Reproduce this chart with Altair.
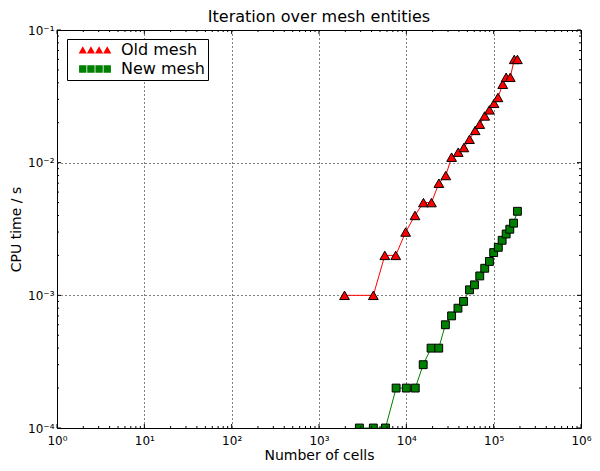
import json
import altair as alt
import pandas as pd

# ---------------- data ----------------
old_cells = [1960, 4190, 5670, 7560, 9820, 12560, 15700, 19400, 23600, 28300,
             33000, 39300, 45600, 52900, 61400, 69300, 79000, 89400, 101000,
             112000, 127000, 139000, 155000, 172000, 187000]
old_time = [0.001, 0.001, 0.002, 0.002, 0.003, 0.004, 0.005, 0.005, 0.007, 0.008,
            0.011, 0.012, 0.013, 0.015, 0.0175, 0.0195, 0.0225, 0.025, 0.028,
            0.031, 0.039, 0.044, 0.044, 0.060, 0.060]

new_cells = [2900, 4190, 5770, 7640, 10000, 12650, 15600, 19200, 23500, 28000,
             33000, 39000, 45200, 52900, 60300, 69300, 79000, 89400, 100000,
             113000, 125000, 139000, 153000, 169000, 187000]
new_time = [0.0001, 0.0001, 0.0001, 0.0002, 0.0002, 0.0002, 0.0003, 0.0004, 0.0004,
            0.0006, 0.0007, 0.0008, 0.0009, 0.0011, 0.0012, 0.0014, 0.0016, 0.0018,
            0.0021, 0.0023, 0.0026, 0.0029, 0.00315, 0.0035, 0.0043]

series_names = ["Old mesh", "New mesh"]
series_colors = ["#ff0000", "#008000"]

x_major = [1, 10, 100, 1000, 10000, 100000, 1000000]
x_labels = ["10⁰", "10¹", "10²", "10³", "10⁴", "10⁵", "10⁶"]
y_major = [1e-4, 1e-3, 1e-2, 1e-1]
y_labels = ["10⁻⁴", "10⁻³", "10⁻²", "10⁻¹"]
minor_multipliers = [2, 3, 4, 5, 6, 7, 8, 9]

chart_title = "Iteration over mesh entities"
x_title = "Number of cells"
y_title = "CPU time / s"

# ---------------- styling ----------------
W, H = 524, 398
F = "DejaVu Sans"

x_minor = [m * d for d in x_major[:-1] for m in minor_multipliers]
y_minor = [m * d for d in y_major[:-1] for m in minor_multipliers]

xs = alt.Scale(type="log", domain=[x_major[0], x_major[-1]], nice=False)
ys = alt.Scale(type="log", domain=[y_major[0], y_major[-1]], nice=False)

x_axis = alt.Axis(
    values=x_major,
    labelExpr=f"{json.dumps(x_labels, ensure_ascii=False)}[round(log(datum.value)/LN10)]",
    grid=True, gridDash=[1, 3], gridColor="black", gridWidth=1, gridOpacity=1,
    ticks=False, tickSize=0, domain=False,
    labelFont=F, labelFontSize=12, labelColor="black", labelPadding=16,
    labelBaseline="alphabetic", labelFlush=False, labelOverlap=False,
    title=x_title, titleFont=F, titleFontSize=14, titleFontWeight="normal",
    titleColor="black", titleBaseline="alphabetic", titleY=31,
)
y_axis = alt.Axis(
    values=y_major,
    labelExpr=f"{json.dumps(y_labels, ensure_ascii=False)}[round(log(datum.value)/LN10)+4]",
    grid=True, gridDash=[1, 3], gridColor="black", gridWidth=1, gridOpacity=1,
    ticks=False, tickSize=0, domain=False,
    labelFont=F, labelFontSize=12, labelColor="black", labelPadding=3,
    labelBaseline="middle", labelAlign="right", labelFlush=False, labelOverlap=False,
    title=y_title, titleFont=F, titleFontSize=14, titleFontWeight="normal",
    titleColor="black", titleBaseline="alphabetic", titleX=-37, titleY=H / 2,
    titleAngle=270,
)


def X(field):
    return alt.X(field, type="quantitative", scale=xs, axis=x_axis)


def Y(field):
    return alt.Y(field, type="quantitative", scale=ys, axis=y_axis)


old_df = pd.DataFrame({"cells": old_cells, "time": old_time})
new_df = pd.DataFrame({"cells": new_cells, "time": new_time})

layers = []
for df, col, shp, sz in [(old_df, series_colors[0], "triangle-up", 95),
                         (new_df, series_colors[1], "square", 62)]:
    layers.append(alt.Chart(df).mark_line(color=col, strokeWidth=1, clip=True)
                  .encode(x=X("cells"), y=Y("time")))
    layers.append(alt.Chart(df).mark_point(shape=shp, size=sz, filled=True, fill=col,
                                           stroke="black", strokeWidth=1, opacity=1,
                                           fillOpacity=1, clip=True)
                  .encode(x=X("cells"), y=Y("time")))

# inward tick marks on all four sides
for vals, L in [(x_major, 4), (x_minor, 2)]:
    d = pd.DataFrame({"v": vals})
    for y0, y1 in [(H, H - L), (0, L)]:
        layers.append(alt.Chart(d).mark_rule(color="black", strokeWidth=1)
                      .encode(x=X("v"), y=alt.value(y0), y2=alt.value(y1)))
for vals, L in [(y_major, 4), (y_minor, 2)]:
    d = pd.DataFrame({"v": vals})
    for x0, x1 in [(0, L), (W, W - L)]:
        layers.append(alt.Chart(d).mark_rule(color="black", strokeWidth=1)
                      .encode(y=Y("v"), x=alt.value(x0), x2=alt.value(x1)))

# legend (four markers per entry, like the reference)
tri_path = " ".join(f"M{cx - 1.02:.2f},0.9L{cx + 1.02:.2f},0.9L{cx:.2f},-0.95Z"
                    for cx in [-3.06, -1.02, 1.02, 3.06])
sq_path = " ".join(f"M{cx - 0.92:.2f},-0.92h1.84v1.84h-1.84Z"
                   for cx in [-3.06, -1.02, 1.02, 3.06])

leg = alt.Legend(
    title=None, orient="none", legendX=10, legendY=9,
    fillColor="white", strokeColor="black", padding=3, cornerRadius=0,
    labelFont=F, labelFontSize=16, labelColor="black",
    labelExpr="datum.label + '\u00a0'",
    symbolSize=64, symbolStrokeColor="black", symbolStrokeWidth=1,
    symbolOffset=17, labelOffset=18, rowPadding=3, symbolOpacity=1,
)
legend_df = pd.DataFrame({"series": series_names})
layers.append(
    alt.Chart(legend_df).transform_filter("false")
    .mark_point(filled=True, size=64, stroke="black", strokeWidth=1, opacity=1)
    .encode(
        color=alt.Color("series:N", scale=alt.Scale(domain=series_names, range=series_colors),
                        legend=leg),
        shape=alt.Shape("series:N", scale=alt.Scale(domain=series_names, range=[tri_path, sq_path]),
                        legend=leg),
    )
)

chart = (
    alt.layer(*layers)
    .properties(
        width=W, height=H,
        title=alt.TitleParams(chart_title, font=F, fontSize=16, fontWeight="normal",
                              color="black", anchor="middle", baseline="alphabetic",
                              offset=1, dy=15, frame="group"),
        autosize=alt.AutoSizeParams(type="none"),
        padding={"left": 49, "top": 22, "right": 11, "bottom": 35},
        background="white",
    )
    .configure_view(stroke="black", strokeWidth=1)
    .configure_legend(strokeWidth=1)
)

chart.save("out.html", embed_options={"renderer": "svg", "actions": False})
